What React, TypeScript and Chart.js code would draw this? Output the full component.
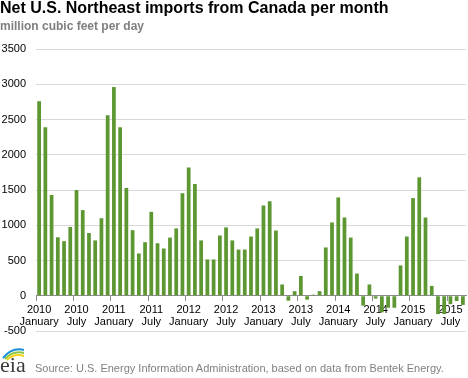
import React, { useEffect, useRef } from 'react';
import { Chart, registerables } from 'chart.js';

Chart.register(...registerables);

// Monthly categories, January 2010 through September 2015
const startYear = 2010;
const monthCount = 69;
const categories: string[] = Array.from({ length: monthCount }, (_, i) => {
  const y = startYear + Math.floor(i / 12);
  const m = (i % 12) + 1;
  return `${y}-${m < 10 ? '0' + m : m}`;
});

// Tick labels shown every 6 months
const tickYears = ['2010', '2010', '2011', '2011', '2012', '2012', '2013', '2013', '2014', '2014', '2015', '2015'];
const tickMonths = ['January', 'July', 'January', 'July', 'January', 'July', 'January', 'July', 'January', 'July', 'January', 'July'];

// Net imports, million cubic feet per day
const netImports = [
  2760, 2390, 1430, 830, 775, 975, 1500, 1215, 890, 785, 1100, 2560,
  2960, 2390, 1530, 930, 600, 760, 1190, 745, 670, 825, 955, 1455,
  1820, 1585, 785, 515, 515, 855, 970, 785, 655, 655, 840, 955,
  1280, 1340, 925, 160, -70, 65, 280, -55, 15, 65, 685, 1040,
  1395, 1110, 825, 315, -140, 160, -40, -235, -170, -170, 430, 840,
  1385, 1680, 1110, 140, -260, -260, -120, -75, -130,
];

const yMin = -500;
const yMax = 3500;
const yStep = 500;

const FONT = "'Liberation Sans', Arial, sans-serif";
const BAR = '#5d9732';
const AXIS = '#8c8c8c';

export default function App() {
  const ref = useRef<HTMLCanvasElement | null>(null);

  useEffect(() => {
    document.body.style.margin = '0';
    const canvas = ref.current;
    if (!canvas) return;
    Chart.defaults.font.family = FONT;
    const chart = new Chart(canvas, {
      type: 'bar',
      data: {
        labels: categories,
        datasets: [
          {
            data: netImports,
            backgroundColor: BAR,
            borderWidth: 0,
            categoryPercentage: 1,
            barPercentage: 0.6,
          },
        ],
      },
      options: {
        animation: false,
        responsive: false,
        devicePixelRatio: 1,
        layout: { padding: { top: 49, right: 2, bottom: 47, left: 0 } },
        plugins: {
          legend: { display: false },
          tooltip: { enabled: false },
          title: { display: false },
        },
        scales: {
          x: {
            type: 'category',
            position: { y: 0 } as any,
            offset: true,
            grid: {
              offset: true,
              drawOnChartArea: false,
              drawTicks: true,
              tickLength: 5,
              lineWidth: 1,
              color: (ctx: any) => (ctx.index % 6 === 0 ? AXIS : 'rgba(0,0,0,0)'),
            },
            border: { display: true, color: AXIS, width: 1 },
            ticks: {
              autoSkip: false,
              maxRotation: 0,
              minRotation: 0,
              padding: 3,
              color: '#000',
              font: { family: FONT, size: 11, lineHeight: 1.1 },
              callback: (_v: any, index: number) =>
                index % 6 === 0 ? [tickYears[index / 6], tickMonths[index / 6]] : '',
            },
          },
          y: {
            min: yMin,
            max: yMax,
            ticks: {
              stepSize: yStep,
              padding: 10,
              color: '#000',
              font: { family: FONT, size: 11 },
              callback: (v: any) => String(v),
            },
            grid: {
              drawTicks: false,
              lineWidth: 1,
              color: (ctx: any) => (ctx.tick && ctx.tick.value === 0 ? AXIS : '#d9d9d9'),
            },
            border: { display: false },
            afterFit: (s: any) => {
              s.width = 36;
            },
          },
        },
      },
    });
    return () => chart.destroy();
  }, []);

  return (
    <div style={{ position: 'relative', width: 468, height: 378, overflow: 'hidden', background: '#fff' }}>
      <canvas ref={ref} width={468} height={378} style={{ position: 'absolute', left: 0, top: 0, width: 468, height: 378 }} />
      <div
        style={{
          position: 'absolute', left: 0, top: 0, fontFamily: FONT, fontWeight: 'bold',
          fontSize: 16, lineHeight: '16px', color: '#000', whiteSpace: 'nowrap',
        }}
      >
        Net U.S. Northeast imports from Canada per month
      </div>
      <div
        style={{
          position: 'absolute', left: 0, top: 20, fontFamily: FONT, fontWeight: 'bold',
          fontSize: 12, lineHeight: '12px', color: '#7f7f7f', whiteSpace: 'nowrap',
        }}
      >
        million cubic feet per day
      </div>
      <svg style={{ position: 'absolute', left: 0, top: 346 }} width={32} height={30}>
        <path d="M3 12 Q12 1 24 4" stroke="#1b8fd6" strokeWidth={2} fill="none" />
        <path d="M5 13 Q13 4 24 7" stroke="#8cc63f" strokeWidth={2} fill="none" />
        <path d="M7 14 Q14 7 24 10" stroke="#f5d21a" strokeWidth={2} fill="none" />
        <text x={0} y={26} fontFamily="'Liberation Serif', 'DejaVu Serif', serif" fontSize={22} fill="#3a3a3a">
          eia
        </text>
      </svg>
      <div
        style={{
          position: 'absolute', left: 35, top: 363, fontFamily: FONT, fontSize: 11,
          lineHeight: '11px', color: '#808080', whiteSpace: 'nowrap',
        }}
      >
        Source: U.S. Energy Information Administration, based on data from Bentek Energy.
      </div>
    </div>
  );
}
